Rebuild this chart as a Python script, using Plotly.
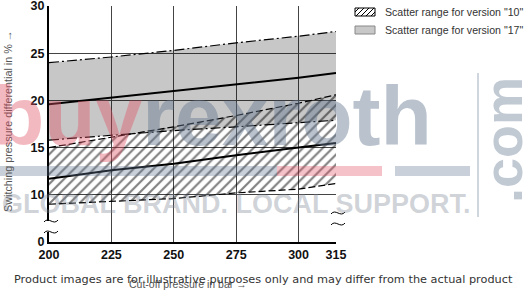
import plotly.graph_objects as go

# ---- data ----
pressure = [200, 225, 250, 275, 300, 315]
v17_upper = [24.0, 24.6, 25.3, 26.1, 26.8, 27.3]
v17_mean = [19.6, 20.3, 21.0, 21.7, 22.4, 22.9]
v17_lower = [15.8, 16.3, 16.8, 17.2, 17.6, 17.9]
v10_upper = [15.0, 16.1, 17.2, 18.4, 19.7, 20.6]
v10_mean = [11.7, 12.6, 13.3, 14.2, 15.0, 15.5]
v10_lower = [9.0, 9.3, 9.6, 10.2, 10.6, 11.2]

x_ticks = [200, 225, 250, 275, 300, 315]
y_ticks = [5, 10, 15, 20, 25, 30]
y_ticktext = ["0", "10", "15", "20", "25", "30"]

legend_labels = ['Scatter range for version "10"', 'Scatter range for version "17"']

# ---- geometry helpers (pixels -> paper) ----
W, H = 524, 292
L, R, T, B = 49, 336, 6, 242


def px(x):
    return (x - L) / (R - L)


def py(y):
    return (B - y) / (B - T)


SANS = "Liberation Sans, Arial, sans-serif"

fig = go.Figure()

# version 17 band (grey)
fig.add_trace(go.Scatter(x=pressure, y=v17_lower, mode="lines",
                         line=dict(color="black", width=1.2, dash="10px,3px,2px,3px"),
                         showlegend=False, hoverinfo="skip"))
fig.add_trace(go.Scatter(x=pressure, y=v17_upper, mode="lines", fill="tonexty",
                         fillcolor="rgba(0,0,0,0.22)",
                         line=dict(color="black", width=1.2, dash="10px,3px,2px,3px"),
                         showlegend=False, hoverinfo="skip"))
# version 10 band (hatched)
fig.add_trace(go.Scatter(x=pressure, y=v10_lower, mode="lines",
                         line=dict(color="black", width=1.2, dash="7px,3px"),
                         showlegend=False, hoverinfo="skip"))
fig.add_trace(go.Scatter(x=pressure, y=v10_upper, mode="lines", fill="tonexty",
                         fillcolor="rgba(0,0,0,0)",
                         fillpattern=dict(shape="/", fgcolor="black", bgcolor="rgba(0,0,0,0)",
                                          size=7, solidity=0.3),
                         line=dict(color="black", width=1.2, dash="7px,3px"),
                         showlegend=False, hoverinfo="skip"))
# mean lines
fig.add_trace(go.Scatter(x=pressure, y=v17_mean, mode="lines",
                         line=dict(color="black", width=2), showlegend=False, hoverinfo="skip"))
fig.add_trace(go.Scatter(x=pressure, y=v10_mean, mode="lines",
                         line=dict(color="black", width=2), showlegend=False, hoverinfo="skip"))

shapes = []
annotations = []

# ---- axis breaks ----
def tilde(cx, cy, w=14, h=3):
    x0, x1 = cx - w / 2, cx + w / 2
    return (f"M{px(x0)},{py(cy + h * 0.3)} "
            f"C{px(cx - w * 0.15)},{py(cy - h * 1.6)} {px(cx + w * 0.15)},{py(cy + h * 1.6)} "
            f"{px(x1)},{py(cy - h * 0.3)}")


for (ax, y0, y1) in [(L, 221, 232), (R, 213, 224)]:
    shapes.append(dict(type="rect", xref="paper", yref="paper",
                       x0=px(ax - 2), x1=px(ax + 2), y0=py(y1), y1=py(y0),
                       fillcolor="white", line=dict(width=0), layer="above"))
    for yy in (y0, y1):
        shapes.append(dict(type="path", xref="paper", yref="paper", path=tilde(ax + 2, yy),
                           line=dict(color="black", width=1), layer="above"))

# ---- custom legend ----
sx0, sx1 = 355, 375
hy0, hy1 = 8, 16
p = f"M{px(sx0)},{py(hy0)} L{px(sx1)},{py(hy0)} L{px(sx1)},{py(hy1)} L{px(sx0)},{py(hy1)} Z"
shapes.append(dict(type="path", xref="paper", yref="paper", path=p,
                   line=dict(color="black", width=1), fillcolor="white", layer="above"))
for xs in range(sx0 - 4, sx1, 5):
    a0, a1 = xs, xs + 8
    ya, yb = hy1, hy0
    if a0 < sx0:
        ya = hy1 - (sx0 - a0)
        a0 = sx0
    if a1 > sx1:
        yb = hy0 + (a1 - sx1)
        a1 = sx1
    shapes.append(dict(type="line", xref="paper", yref="paper",
                       x0=px(a0), y0=py(ya), x1=px(a1), y1=py(yb),
                       line=dict(color="black", width=1), layer="above"))
shapes.append(dict(type="rect", xref="paper", yref="paper",
                   x0=px(sx0), x1=px(sx1), y0=py(34), y1=py(26),
                   fillcolor="#c8c8c8", line=dict(color="#888", width=1), layer="above"))
for lab, yy in zip(legend_labels, [12, 30]):
    annotations.append(dict(text=lab, xref="paper", yref="paper", x=px(383), y=py(yy),
                            xanchor="left", yanchor="middle", showarrow=False,
                            font=dict(family=SANS, size=10.6, color="#333")))

# ---- axis titles ----
annotations.append(dict(text="Switching pressure differential in % →", xref="paper", yref="paper",
                        x=px(8), y=py(121), textangle=-90, showarrow=False,
                        xanchor="center", yanchor="middle",
                        font=dict(family=SANS, size=10.8, color="#555")))
annotations.append(dict(text="Cut-off pressure in bar →", xref="paper", yref="paper",
                        x=px(188), y=py(284), showarrow=False,
                        xanchor="center", yanchor="middle",
                        font=dict(family=SANS, size=10.5, color="#555")))

# ---- watermark ----
shapes.append(dict(type="rect", xref="paper", yref="paper", x0=px(0), x1=px(277),
                   y0=py(176), y1=py(166), fillcolor="rgba(100,120,145,0.35)",
                   line=dict(width=0), layer="above"))
shapes.append(dict(type="rect", xref="paper", yref="paper", x0=px(277), x1=px(382),
                   y0=py(176), y1=py(166), fillcolor="rgba(225,80,100,0.35)",
                   line=dict(width=0), layer="above"))
shapes.append(dict(type="rect", xref="paper", yref="paper", x0=px(395), x1=px(470),
                   y0=py(176), y1=py(166), fillcolor="rgba(100,120,145,0.35)",
                   line=dict(width=0), layer="above"))
shapes.append(dict(type="line", xref="paper", yref="paper", x0=px(478), x1=px(478),
                   y0=py(217), y1=py(73), line=dict(color="rgba(100,120,145,0.3)", width=2),
                   layer="above"))
annotations.append(dict(
    text='<span style="color:rgba(225,80,100,0.4)">buy</span>'
         '<span style="color:rgba(100,120,145,0.45)">rexroth</span>',
    xref="paper", yref="paper", x=px(434), y=py(116), xanchor="right", yanchor="middle",
    showarrow=False, font=dict(family=SANS, size=84, weight="bold")))
annotations.append(dict(text=".com", xref="paper", yref="paper", x=px(503), y=py(140),
                        textangle=-90, xanchor="center", yanchor="middle", showarrow=False,
                        font=dict(family=SANS, size=54,
                                  color="rgba(100,120,145,0.4)", weight="bold")))
annotations.append(dict(text="GLOBAL BRAND. LOCAL SUPPORT.", xref="paper", yref="paper",
                        x=px(0), y=py(204), xanchor="left", yanchor="middle", showarrow=False,
                        font=dict(family=SANS, size=27,
                                  color="rgba(120,130,145,0.35)", weight="bold")))
annotations.append(dict(
    text="Product images are for illustrative purposes only and may differ from the actual product",
    xref="paper", yref="paper", x=px(263), y=py(279), xanchor="center", yanchor="middle",
    showarrow=False, font=dict(family="DejaVu Sans, Verdana", size=11.3, color="#333")))

fig.update_layout(
    width=W, height=H,
    margin=dict(l=L, r=W - R, t=T, b=H - B, autoexpand=False),
    paper_bgcolor="white", plot_bgcolor="white",
    shapes=shapes, annotations=annotations,
    showlegend=False,
    xaxis=dict(range=[200, 315], tickvals=x_ticks, ticktext=[str(v) for v in x_ticks],
               showgrid=True, gridcolor="#444", gridwidth=1, zeroline=False,
               showline=True, linecolor="black", linewidth=2, ticks="",
               ticklabeloverflow="allow", automargin=False,
               tickfont=dict(family=SANS, size=12.5, color="#111", weight="bold"),
               fixedrange=True),
    yaxis=dict(range=[5, 30], tickvals=y_ticks, ticktext=y_ticktext,
               showgrid=True, gridcolor="#444", gridwidth=1, zeroline=False,
               showline=True, linecolor="black", linewidth=2, ticks="",
               ticklabeloverflow="allow", automargin=False,
               tickfont=dict(family=SANS, size=12.5, color="#111", weight="bold"),
               fixedrange=True),
)

fig.write_html("out.html")
